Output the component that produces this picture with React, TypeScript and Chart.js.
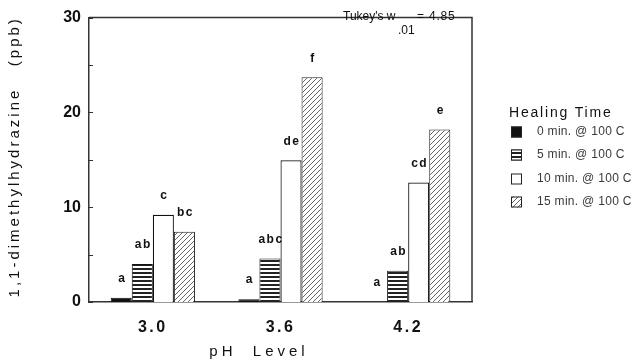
import React, { useEffect, useRef } from 'react';
import { Chart, registerables } from 'chart.js';

Chart.register(...registerables);

const categories = ['3.0', '3.6', '4.2'];
const seriesLabels = ['0 min. @ 100 C', '5 min. @ 100 C', '10 min. @ 100 C', '15 min. @ 100 C'];
const min0 = [0.45, 0.3, 0];
const min5 = [4.0, 4.6, 3.3];
const min10 = [9.2, 14.95, 12.6];
const min15 = [7.4, 23.7, 18.2];
const letters0 = ['a', 'a', 'a'];
const letters5 = ['ab', 'abc', 'ab'];
const letters10 = ['c', 'de', 'cd'];
const letters15 = ['bc', 'f', 'e'];
const yMin = 0;
const yMax = 30;
const yStep = 10;
const minorStep = 5;
const yTitle = '1,1-dimethylhydrazine   (ppb)';
const xTitle = 'pH  Level';
const legendTitle = 'Healing Time';
const tukeyMain = "Tukey's w";
const tukeySub = '.01';
const tukeyValue = '= 4.85';

const FONT = 'Arial, "Liberation Sans", Helvetica, sans-serif';

function makeHPattern(ctx: CanvasRenderingContext2D) {
  const c = document.createElement('canvas');
  c.width = 4;
  c.height = 4;
  const g = c.getContext('2d')!;
  g.fillStyle = '#ffffff';
  g.fillRect(0, 0, 4, 4);
  g.fillStyle = '#222222';
  g.fillRect(0, 0, 4, 2);
  return ctx.createPattern(c, 'repeat')!;
}

function makeDPattern(ctx: CanvasRenderingContext2D) {
  const s = 5;
  const c = document.createElement('canvas');
  c.width = s;
  c.height = s;
  const g = c.getContext('2d')!;
  g.fillStyle = '#ffffff';
  g.fillRect(0, 0, s, s);
  g.strokeStyle = '#555555';
  g.lineWidth = 0.9;
  g.beginPath();
  for (const o of [-s, 0, s]) {
    g.moveTo(o - 1, s + 1);
    g.lineTo(o + s + 1, -1);
  }
  g.stroke();
  return ctx.createPattern(c, 'repeat')!;
}

export default function App() {
  const ref = useRef<HTMLCanvasElement | null>(null);

  useEffect(() => {
    const canvas = ref.current!;
    const ctx = canvas.getContext('2d')!;
    const hPat = makeHPattern(ctx);
    const dPat = makeDPattern(ctx);
    const letters = [letters0, letters5, letters10, letters15];
    const fills: any[] = ['#111111', hPat, '#ffffff', dPat];

    const overlay = {
      id: 'overlay',
      beforeDraw(chart: any) {
        const c = chart.ctx;
        c.save();
        c.fillStyle = '#ffffff';
        c.fillRect(0, 0, chart.width, chart.height);
        c.restore();
        (c as any).letterSpacing = '2.5px';
      },
      afterDatasetsDraw(chart: any) {
        (chart.ctx as any).letterSpacing = '0px';
      },
      afterDraw(chart: any) {
        const c: CanvasRenderingContext2D = chart.ctx;
        (c as any).letterSpacing = '0px';
        const a = chart.chartArea;
        const ys = chart.scales.y;
        c.save();
        // frame top/right
        c.strokeStyle = '#333333';
        c.lineWidth = 1.5;
        c.beginPath();
        c.moveTo(a.left, a.top);
        c.lineTo(a.right, a.top);
        c.lineTo(a.right, a.bottom);
        c.stroke();
        // inward ticks
        c.lineWidth = 1;
        c.beginPath();
        for (let v = yMin; v <= yMax; v += minorStep) {
          const y = Math.round(ys.getPixelForValue(v)) + 0.5;
          c.moveTo(a.left, y);
          c.lineTo(a.left + 4, y);
        }
        c.stroke();
        // letters above bars
        c.fillStyle = '#111111';
        c.font = `bold 12px ${FONT}`;
        c.textAlign = 'center';
        c.textBaseline = 'middle';
        (c as any).letterSpacing = '1.5px';
        letters.forEach((arr, di) => {
          const meta = chart.getDatasetMeta(di);
          meta.data.forEach((el: any, j: number) => {
            c.fillText(arr[j], el.x + 1, el.y - 19);
          });
        });
        // x title
        c.font = `15px ${FONT}`;
        (c as any).letterSpacing = '4px';
        c.fillText(xTitle, 259, 352);
        // y title
        c.save();
        c.translate(15, (a.top + a.bottom) / 2 - 3);
        c.rotate(-Math.PI / 2);
        (c as any).letterSpacing = '3px';
        c.font = `15px ${FONT}`;
        c.fillText(yTitle, 0, 0);
        c.restore();
        // Tukey annotation
        c.textAlign = 'left';
        c.font = `12px ${FONT}`;
        (c as any).letterSpacing = '0px';
        c.fillText(tukeyMain, 343, 17);
        c.fillText(tukeySub, 398, 31);
        (c as any).letterSpacing = '0.8px';
        c.fillText(tukeyValue, 417, 17);
        // legend
        c.font = `14px ${FONT}`;
        (c as any).letterSpacing = '1.8px';
        c.fillText(legendTitle, 509, 113);
        (c as any).letterSpacing = '0.3px';
        c.font = `12px ${FONT}`;
        const ly = [132, 155, 179, 202];
        seriesLabels.forEach((lab, i) => {
          const x = 511;
          const y = ly[i] - 5.5;
          c.fillStyle = fills[i];
          c.fillRect(x, y, 11, 11);
          c.strokeStyle = '#222222';
          c.lineWidth = 1;
          c.strokeRect(x + 0.5, y + 0.5, 10, 10);
          c.fillStyle = '#3a3a3a';
          c.fillText(lab, 537, ly[i]);
        });
        c.restore();
      },
    };

    const chart = new Chart(canvas, {
      type: 'bar',
      data: {
        labels: categories,
        datasets: [
          { label: seriesLabels[0], data: min0, backgroundColor: fills[0], borderColor: '#111111', borderWidth: 1 },
          { label: seriesLabels[1], data: min5, backgroundColor: fills[1], borderColor: '#111111', borderWidth: 1 },
          { label: seriesLabels[2], data: min10, backgroundColor: fills[2], borderColor: '#111111', borderWidth: 1.2 },
          { label: seriesLabels[3], data: min15, backgroundColor: fills[3], borderColor: '#222222', borderWidth: 1 },
        ],
      },
      options: {
        animation: false,
        responsive: false,
        maintainAspectRatio: false,
        layout: { padding: { left: 0, top: 13, right: 165, bottom: 0 } },
        datasets: { bar: { categoryPercentage: 0.66, barPercentage: 1.0 } },
        plugins: { legend: { display: false }, tooltip: { enabled: false }, title: { display: false } },
        scales: {
          x: {
            grid: { display: false, drawTicks: false },
            border: { display: true, color: '#333333', width: 1.5 },
            ticks: { color: '#111111', font: { family: FONT, size: 16, weight: 'bold' }, padding: 16 },
            afterFit(scale: any) {
              scale.height = 61;
            },
          },
          y: {
            min: yMin,
            max: yMax,
            grid: { display: false, drawTicks: false },
            border: { display: true, color: '#333333', width: 1.5 },
            ticks: { stepSize: yStep, color: '#111111', font: { family: FONT, size: 16, weight: 'bold' }, padding: 8, z: 1 },
            title: { display: false },
            afterFit(scale: any) {
              scale.width = 89;
            },
          },
        },
      } as any,
      plugins: [overlay],
    });
    return () => chart.destroy();
  }, []);

  return (
    <div style={{ position: 'fixed', left: 0, top: 0, width: 637, height: 363, background: '#fff' }}>
      <canvas ref={ref} width={637} height={363} style={{ width: 637, height: 363, display: 'block' }} />
    </div>
  );
}
